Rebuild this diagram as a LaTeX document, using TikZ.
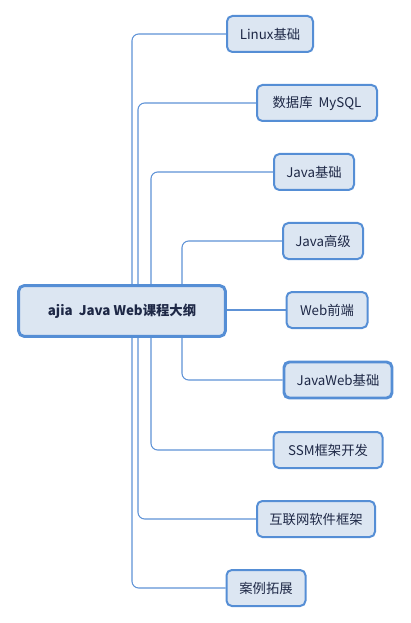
\documentclass[tikz,border=0pt]{standalone}
\usepackage{fontspec}
\setmainfont{Noto Sans CJK SC}
\usepackage{tikz}
\usetikzlibrary{backgrounds}
\definecolor{BoxFill}{RGB}{220,230,242}
\definecolor{BoxLine}{RGB}{85,142,213}
\definecolor{LinkLine}{RGB}{94,146,214}
\definecolor{TextInk}{RGB}{30,40,70}
\tikzset{
    topic/.style={draw=BoxLine,fill=BoxFill,line width=1.5pt,rounded corners=4pt,
        minimum height=27pt,inner xsep=8pt,text=TextInk,
        font=\fontsize{10}{12}\selectfont},
    wd/.style={minimum width=#1*0.75pt},
    hot/.style={topic,line width=2.2pt},
    central/.style={topic,line width=2.2pt,minimum width=155pt,minimum height=38pt,
        font=\fontsize{10}{12}\selectfont\bfseries},
    link/.style={draw=LinkLine,line width=0.8pt,rounded corners=5pt}
}
\begin{document}
\begin{tikzpicture}[x=0.75pt,y=-0.75pt]
    \useasboundingbox (0,0) rectangle (410,623);
    % --- --- --- Centre topic
    \node[central] (root) at (122,311) {ajia\ \ Java Web课程大纲};
    % --- --- --- Sub topics
    \node[topic,wd=86]  (linux) at (270,34) {Linux基础};
    \node[topic,wd=120] (mysql) at (317,103) {数据库\ \ MySQL};
    \node[topic,wd=80]  (jbase) at (314,172) {Java基础};
    \node[topic,wd=80]  (jadv)  at (323,241) {Java高级};
    \node[topic,wd=81]  (webfe) at (327,310) {Web前端};
    \node[hot,wd=108]   (jweb)  at (338,380) {JavaWeb基础};
    \node[topic,wd=109] (ssm)   at (328,450) {SSM框架开发};
    \node[topic,wd=118] (inet)  at (316,519) {互联网软件框架};
    \node[topic,wd=79]  (cases) at (266,588) {案例拓展};
    % --- --- --- Trunks behind the centre topic
    \coordinate (trunkA) at (132,311);
    \coordinate (trunkB) at (138,311);
    \coordinate (trunkC) at (151,311);
    \coordinate (trunkD) at (182,311);
    % === === === Connectors
    \begin{scope}[on background layer]
        \draw[link] (trunkA) |- (linux.west);
        \draw[link] (trunkB) |- (mysql.west);
        \draw[link] (trunkC) |- (jbase.west);
        \draw[link] (trunkD |- root.north) |- (jadv.west);
        \draw[link] (root.east |- webfe.west) -- (webfe.west);
        \draw[link] (trunkD |- root.south) |- (jweb.west);
        \draw[link] (trunkC) |- (ssm.west);
        \draw[link] (trunkB) |- (inet.west);
        \draw[link] (trunkA) |- (cases.west);
    \end{scope}
\end{tikzpicture}
\end{document}
